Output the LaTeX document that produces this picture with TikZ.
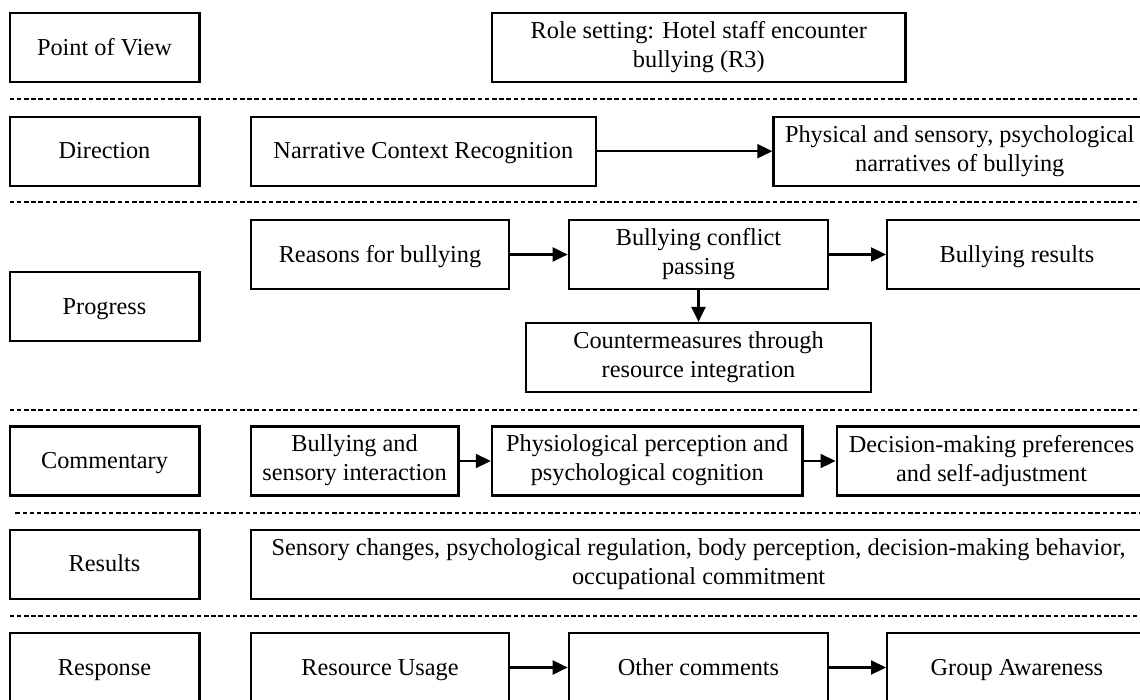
\documentclass[tikz,border=0pt]{standalone}
\usepackage{fontspec}
\setmainfont{Liberation Serif}
\usetikzlibrary{arrows.meta}
\newcommand{\boxstrut}{\rule[-6pt]{0pt}{27pt}}

\begin{document}
\begin{tikzpicture}[%
x=1pt, y=-1pt,
box/.style={draw=black, line width=2.2pt, minimum height=69pt, inner sep=2pt,
  align=center, font=\fontsize{24.3}{29}\selectfont,
  execute at begin node=\boxstrut, execute at end node=\boxstrut},
arrowline/.style={line width=2.2pt, -{Triangle[length=15pt,width=14pt]}},
sepline/.style={line width=1.8pt, dash pattern=on 4.5pt off 2.7pt},
]
\useasboundingbox (0,0) rectangle (1140,699);
\clip (0,0) rectangle (1140,699);
%% dashed line;
\foreach \xs/\ys in {9.6/99.3, 9.6/202.3, 9.6/410.3, 15.3/513.3, 9.6/616}
  \draw[sepline] (\xs,\ys) -- (1145,\ys);
%% left boxes;
\node[box, minimum width=189.8pt] (pov) at (104.5,47.8) {Point of View};
\node[box, minimum width=189.8pt] (dir) at (104.5,151.2) {Direction};
\node[box, minimum width=189.8pt] (prog) at (104.5,306.8) {Progress};
\node[box, minimum width=189.8pt] (comm) at (104.5,461) {Commentary};
\node[box, minimum width=189.8pt] (res) at (104.5,564.2) {Results};
\node[box, minimum width=189.8pt] (resp) at (104.5,667.5) {Response};
%% point of view;
\node[box, minimum width=413.5pt] (role) at (698.8,47.8) {Role setting: Hotel staff encounter\\bullying (R3)};
%% direction;
\node[box, minimum width=345.2pt] (ncr) at (423.3,151.2) {Narrative Context Recognition};
\node[box, minimum width=372.6pt] (phys) at (959.7,151.2) {Physical and sensory, psychological\\narratives of bullying};
\draw[arrowline] (ncr) -- (phys);
%% progress;
\node[box, minimum width=258.7pt] (reasons) at (380,254.5) {Reasons for bullying};
\node[box, minimum width=259.5pt] (conflict) at (698.5,254.5) {Bullying conflict\\passing};
\node[box, minimum width=259.6pt] (bres) at (1016.9,254.5) {Bullying results};
\node[box, minimum width=345.2pt] (counter) at (698.5,357.5) {Countermeasures through\\resource integration};
\draw[arrowline] (reasons) -- (conflict);
\draw[arrowline] (conflict) -- (bres);
\draw[arrowline] (conflict) -- (counter);
%% commentary;
\node[box, minimum width=207.8pt] (bsi) at (354.6,461) {Bullying and\\sensory interaction};
\node[box, minimum width=310.7pt] (ppc) at (647.2,461) {Physiological perception and\\psychological cognition};
\node[box, minimum width=310pt] (dmp) at (991.6,461) {Decision-making preferences\\and self-adjustment};
\draw[arrowline] (bsi) -- (ppc);
\draw[arrowline] (ppc) -- (dmp);
%% results;
\node[box, minimum width=895.8pt] (sens) at (698.6,564.2) {Sensory changes, psychological regulation, body perception, decision-making behavior,\\occupational commitment};
%% response;
\node[box, minimum width=258.7pt] (ru) at (380,667.5) {Resource Usage};
\node[box, minimum width=259.5pt] (oc) at (698.5,667.5) {Other comments};
\node[box, minimum width=259.6pt] (ga) at (1016.9,667.5) {Group Awareness};
\draw[arrowline] (ru) -- (oc);
\draw[arrowline] (oc) -- (ga);
\end{tikzpicture}
\end{document}
